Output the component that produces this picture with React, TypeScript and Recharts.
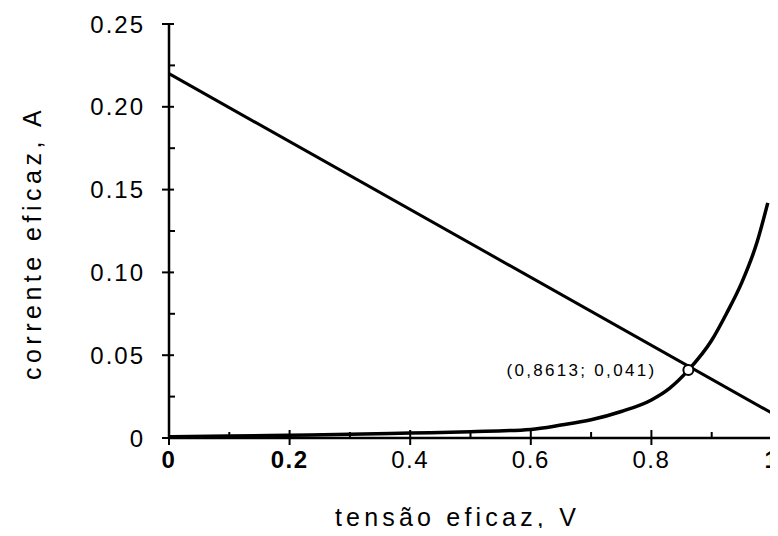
import { ComposedChart, Line, Scatter, XAxis, YAxis } from "recharts";

const INK = "#000";
const FONT = "'Liberation Sans', Arial, sans-serif";

// reta de carga (tensão, corrente)
const loadLineV = [0, 1];
const loadLineA = [0.22, 0.015];

// curva do dispositivo
const curveV = [0, 0.1, 0.2, 0.3, 0.4, 0.5, 0.6, 0.65, 0.7, 0.75, 0.8, 0.83, 0.8613, 0.9, 0.925, 0.95, 0.975, 0.993];
const curveA = [0.0008, 0.0012, 0.0017, 0.0022, 0.003, 0.0038, 0.0052, 0.0078, 0.011, 0.016, 0.023, 0.03, 0.041, 0.059, 0.0755, 0.094, 0.118, 0.142];

const opPointV = [0.8613];
const opPointA = [0.041];
const opPointLabel = "(0,8613; 0,041)";

const xTicks = [0, 0.1, 0.2, 0.3, 0.4, 0.5, 0.6, 0.7, 0.8, 0.9, 1];
const xTickLabels = ["0", "", "0.2", "", "0.4", "", "0.6", "", "0.8", "", "1"];
const xBoldLabels = ["0", "0.2", "1"];

const yTicks = [0, 0.025, 0.05, 0.075, 0.1, 0.125, 0.15, 0.175, 0.2, 0.225, 0.25];
const yTickLabels = ["0", "", "0.05", "", "0.10", "", "0.15", "", "0.20", "", "0.25"];

const loadLine = loadLineV.map((v, i) => ({ x: v, y: loadLineA[i] }));
const curve = curveV.map((v, i) => ({ x: v, y: curveA[i] }));
const opPoint = opPointV.map((v, i) => ({ x: v, y: opPointA[i] }));

function XTick({ x, y, payload }: any) {
  const label = xTickLabels[xTicks.indexOf(payload.value)] ?? "";
  const major = label !== "";
  return (
    <g>
      <line x1={x} x2={x} y1={y - (major ? 8 : 6)} y2={y + (major ? 7 : 0)} stroke={INK} strokeWidth={2} />
      {major && (
        <text
          x={x}
          y={y + 30}
          textAnchor="middle"
          fontSize={24}
          letterSpacing={1.5}
          fontWeight={xBoldLabels.includes(label) ? 700 : 400}
          fill={INK}
        >
          {label}
        </text>
      )}
    </g>
  );
}

function YTick({ x, y, payload }: any) {
  const label = yTickLabels[yTicks.indexOf(payload.value)] ?? "";
  const major = label !== "";
  return (
    <g>
      <line x1={x - (major ? 7 : 0)} x2={x + (major ? 5 : 6)} y1={y} y2={y} stroke={INK} strokeWidth={2} />
      {major && (
        <text x={x - 24} y={y} textAnchor="end" dominantBaseline="central" fontSize={24} letterSpacing={2} fill={INK}>
          {label}
        </text>
      )}
    </g>
  );
}

function OpPoint({ cx, cy }: any) {
  return (
    <g>
      <circle cx={cx} cy={cy} r={5} fill="#fff" stroke={INK} strokeWidth={2} />
      <text x={cx - 32} y={cy} textAnchor="end" dominantBaseline="central" fontSize={17} letterSpacing={2.3} fill={INK}>
        {opPointLabel}
      </text>
    </g>
  );
}

export default function App() {
  return (
    <div style={{ fontFamily: FONT, margin: -8 }}>
      <ComposedChart width={778} height={536} margin={{ top: 24, right: 6, bottom: 38, left: 19 }}>
        <XAxis
          type="number"
          dataKey="x"
          domain={[0, 1]}
          ticks={xTicks}
          interval={0}
          height={60}
          tickSize={0}
          tickMargin={0}
          tickLine={false}
          axisLine={{ stroke: INK, strokeWidth: 2.5 }}
          tick={<XTick />}
          label={{
            content: ({ viewBox }: any) => (
              <text
                x={viewBox.x + viewBox.width / 2 - 13}
                y={viewBox.y + 88}
                textAnchor="middle"
                fontSize={25}
                letterSpacing={4.2}
                fill={INK}
              >
                tensão eficaz, V
              </text>
            ),
          }}
        />
        <YAxis
          type="number"
          dataKey="y"
          domain={[0, 0.25]}
          ticks={yTicks}
          interval={0}
          width={150}
          tickSize={0}
          tickMargin={0}
          tickLine={false}
          axisLine={{ stroke: INK, strokeWidth: 2.5 }}
          tick={<YTick />}
          label={{
            content: ({ viewBox }: any) => {
              const cx = viewBox.x + 13;
              const cy = viewBox.y + viewBox.height / 2 + 12;
              return (
                <text
                  x={cx}
                  y={cy}
                  transform={`rotate(-90 ${cx} ${cy})`}
                  textAnchor="middle"
                  dominantBaseline="central"
                  fontSize={25}
                  letterSpacing={4.5}
                  fill={INK}
                >
                  corrente eficaz, A
                </text>
              );
            },
          }}
        />
        <Line
          data={loadLine}
          dataKey="y"
          type="linear"
          stroke={INK}
          strokeWidth={3}
          dot={false}
          isAnimationActive={false}
        />
        <Line
          data={curve}
          dataKey="y"
          type="monotone"
          stroke={INK}
          strokeWidth={3.5}
          dot={false}
          isAnimationActive={false}
        />
        <Scatter data={opPoint} dataKey="y" shape={<OpPoint />} isAnimationActive={false} />
      </ComposedChart>
    </div>
  );
}
